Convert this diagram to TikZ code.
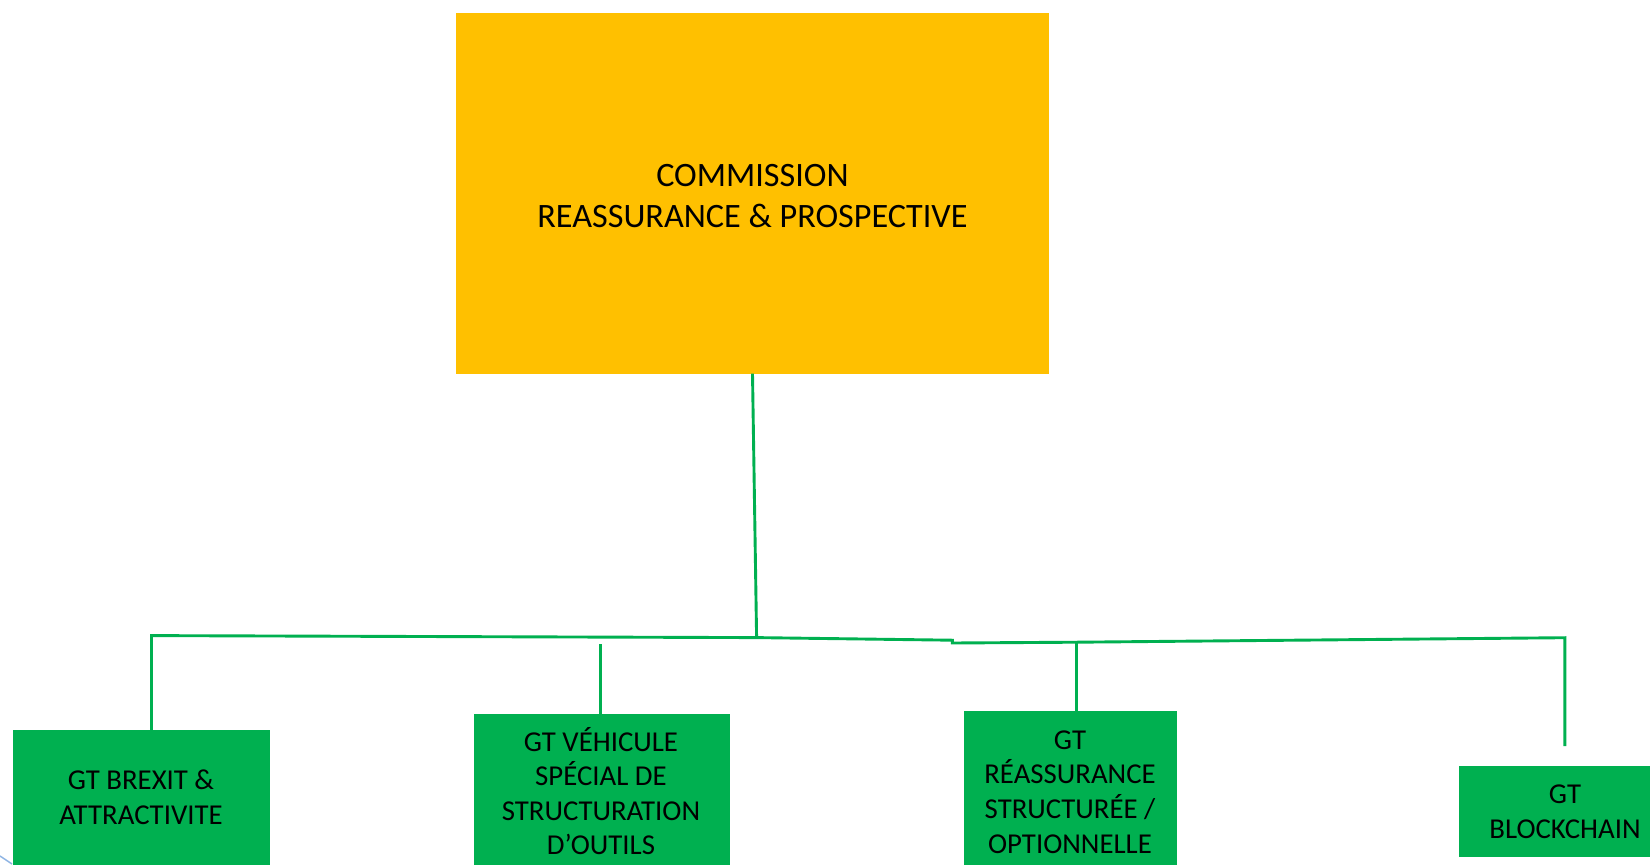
\documentclass[tikz,border=0pt]{standalone}
\usepackage{fontspec}
\setmainfont{Carlito}
\definecolor{orgbox}{HTML}{FFC000}
\definecolor{grnbox}{HTML}{00B050}
\definecolor{artblue}{HTML}{8EB4E3}
\begin{document}
\begin{tikzpicture}[x=1pt,y=-1pt,
  commbox/.style={fill=orgbox,draw=none,inner sep=0pt,align=center,
    font=\fontsize{34.2}{41}\selectfont},
  gtbox/.style={fill=grnbox,draw=none,inner sep=0pt,align=center,
    font=\fontsize{28.8}{34.6}\selectfont},
  link/.style={draw=grnbox,line width=2.9pt}]
\useasboundingbox (0,0) rectangle (1650,865);
% boxes
\path[fill=orgbox] (456,12.6) rectangle (1049,373.6);
\node[commbox] (comm) at (752.5,196.5) {COMMISSION\\REASSURANCE \& PROSPECTIVE};
\coordinate (commB) at (752.5,373.6);

\path[fill=grnbox] (12.6,730.3) rectangle (270.4,870);
\node[gtbox] (b1) at (141,797.5) {GT BREXIT \&\\ATTRACTIVITE};
\coordinate (b1T) at (151.5,730.3);

\path[fill=grnbox] (473.5,713.5) rectangle (730.3,870);
\node[gtbox] (b2) at (601,791) {GT VÉHICULE\\SPÉCIAL DE\\STRUCTURATION\\D’OUTILS};
\coordinate (b2T) at (600.9,713.5);
\coordinate (b2E) at (600.9,644);

\path[fill=grnbox] (963.9,711.4) rectangle (1176.5,870);
\node[gtbox] (b3) at (1070,792) {GT\\RÉASSURANCE\\STRUCTURÉE /\\OPTIONNELLE};
\coordinate (b3T) at (1076.5,711.4);

\path[fill=grnbox] (1458.5,766) rectangle (1650,857);
\node[gtbox] (b4) at (1565,812) {GT\\BLOCKCHAIN};
\coordinate (b4E) at (1564.8,746.1);

% connectors
\coordinate (hL) at (151.5,635.6);
\coordinate (hM) at (756.6,637.6);
\coordinate (hS1) at (952.3,640.2);
\coordinate (hS2) at (952.3,643);
\coordinate (h3) at (1076.5,642.2);
\coordinate (hR) at (1564.8,637.7);
\draw[link] (commB) -- (hM);
\draw[link,line join=miter] (b1T) -- (hL) -- (hM) -- (hS1) -- (hS2) -- (h3) -- (hR) -- (b4E);
\draw[link] (b2E) -- (b2T);
\draw[link] (h3) -- (b3T);
% stray artefact bottom-left
\draw[artblue,line width=1.5pt] (0,856) -- (12,864);
\end{tikzpicture}
\end{document}
